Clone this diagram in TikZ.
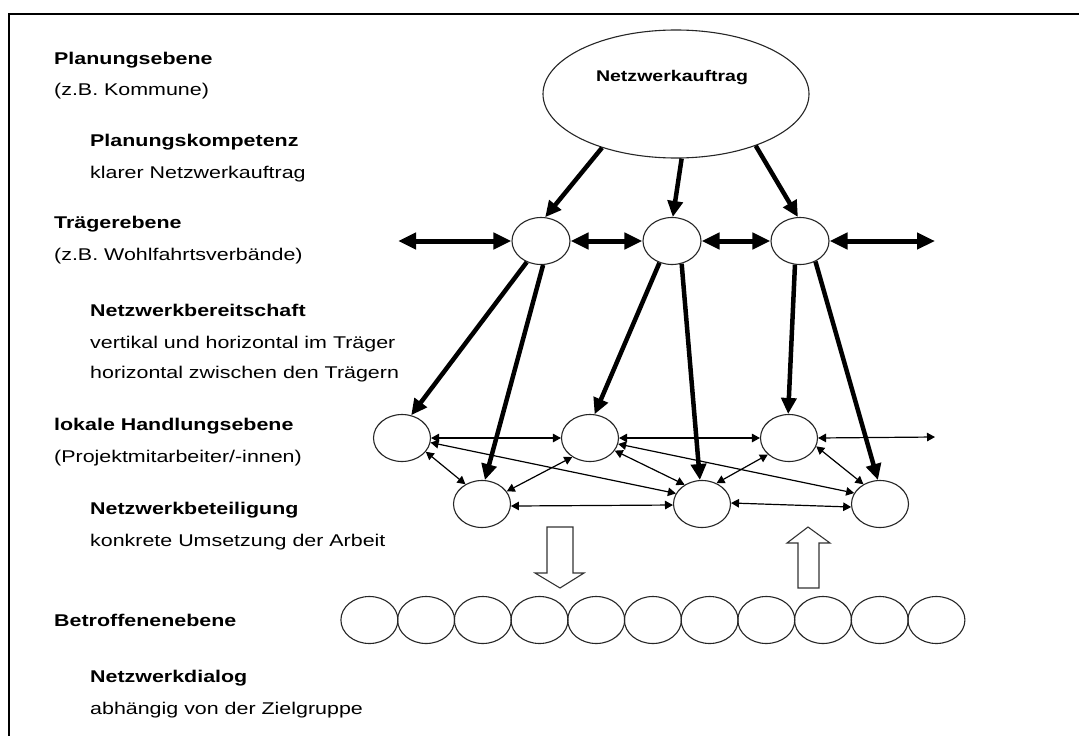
\documentclass[tikz,border=0pt]{standalone}
\usepackage{fontspec}
\setmainfont[FakeStretch=1.26]{Liberation Sans}
\usetikzlibrary{shapes.geometric,arrows.meta}

\begin{document}
\begin{tikzpicture}[x=1pt,y=-1pt,
  oval/.style={ellipse, draw=black!85, line width=1.1pt, minimum width=57pt, minimum height=47pt, inner sep=0pt},
  head/.style={anchor=base west, inner sep=0pt, font=\fontsize{17}{20}\selectfont\bfseries},
  sub/.style={anchor=base west, inner sep=0pt, font=\fontsize{17}{20}\selectfont},
  boldarrow/.style={line width=4.5pt, -{Triangle[length=16pt,width=15pt]}},
  boldboth/.style={line width=5pt, {Triangle[length=18pt,width=16pt]}-{Triangle[length=18pt,width=16pt]}},
  thinboth/.style={line width=1.2pt, {Triangle[length=8pt,width=8.5pt]}-{Triangle[length=8pt,width=8.5pt]}},
  block/.style={draw=black!80, line width=1.1pt, fill=white, line join=miter}
]
\fill[white] (0,0) rectangle (1079,736);
\useasboundingbox (0,0) rectangle (1079,736);

% frame (top and left edge)
\draw[line width=2.5pt] (9,736) -- (9,14) -- (1079,14);

% level captions
\node[head] (l1) at (54,64) {Planungsebene};
\node[sub]  (l1s) at (54,95) {(z.B. Kommune)};
\node[head] (k1) at (90,146) {Planungskompetenz};
\node[sub]  (k1s) at (90,178) {klarer Netzwerkauftrag};
\node[head] (l2) at (54,228) {Trägerebene};
\node[sub]  (l2s) at (54,260) {(z.B. Wohlfahrtsverbände)};
\node[head] (k2) at (90,316) {Netzwerkbereitschaft};
\node[sub]  (k2s) at (90,348) {vertikal und horizontal im Träger};
\node[sub]  (k2t) at (90,378) {horizontal zwischen den Trägern};
\node[head] (l3) at (54,430) {lokale Handlungsebene};
\node[sub]  (l3s) at (54,462) {(Projektmitarbeiter/-innen)};
\node[head] (k3) at (90,514) {Netzwerkbeteiligung};
\node[sub]  (k3s) at (90,546) {konkrete Umsetzung der Arbeit};
\node[head] (l4) at (54,626) {Betroffenenebene};
\node[head] (k4) at (90,682) {Netzwerkdialog};
\node[sub]  (k4s) at (90,714) {abhängig von der Zielgruppe};

% planning level
\node[oval, minimum width=266pt, minimum height=128pt] (auftrag) at (676,94) {};
\node[font=\fontsize{15.5}{18}\selectfont\bfseries] (auftragtext) at (672,78) {Netzwerkauftrag};

% carrier level
\node[oval, minimum width=58pt] (t1) at (541,241) {};
\node[oval, minimum width=58pt] (t2) at (672,241) {};
\node[oval, minimum width=58pt] (t3) at (800,241) {};
\coordinate (tl) at (398,241);
\coordinate (tr) at (935,241);

% local level
\node[oval] (a) at (402,438) {};
\node[oval] (b) at (590,438) {};
\node[oval] (c) at (789,438) {};
\node[oval] (d) at (482,504) {};
\node[oval] (e) at (702,504) {};
\node[oval] (f) at (880,504) {};
\coordinate (lr) at (935,437);

% affected people
\foreach \i in {0,...,10}
  \node[oval] (p\i) at ({369.4+56.7*\i},620) {};

% mandate to carriers
\draw[boldarrow] (auftrag.216) -- (t1.80);
\draw[boldarrow] (auftrag.275) -- (t2.88);
\draw[boldarrow] (auftrag.327) -- (t3.95);

% between carriers
\draw[boldboth] (tl) -- (t1.west);
\draw[boldboth] (t1.east) -- (t2.west);
\draw[boldboth] (t2.east) -- (t3.west);
\draw[boldboth] (t3.east) -- (tr);

% carriers to local actors
\draw[boldarrow] (t1.236) -- (a.68);
\draw[boldarrow] (t1.275) -- (d.83);
\draw[boldarrow] (t2.240) -- (b.79);
\draw[boldarrow] (t2.293) -- (e.95);
\draw[boldarrow] (t3.258) -- (c.92);
\draw[boldarrow] (t3.307) -- (f.95);

% local network
\draw[thinboth] (a.0) -- (b.180);
\draw[thinboth] (b.0) -- (c.180);
\draw[thinboth] (c.0) -- (lr);
\draw[thinboth] (a.351) -- (e.158);
\draw[thinboth] (a.330) -- (d.130);
\draw[thinboth] (d.27) -- (b.227);
\draw[thinboth] (d.356) -- (e.182);
\draw[thinboth] (b.333) -- (e.132);
\draw[thinboth] (b.348) -- (f.157);
\draw[thinboth] (e.55) -- (c.218);
\draw[thinboth] (c.343) -- (f.130);
\draw[thinboth] (e.2) -- (f.186);

% block arrows between local and affected level
\draw[block] (547,527) -- (573,527) -- (573,573) -- (584,573) -- (560,588) -- (535,573) -- (547,573) -- cycle;
\draw[block] (798,588) -- (819,588) -- (819,543) -- (830,543) -- (808,527) -- (787,543) -- (798,543) -- cycle;
\end{tikzpicture}
\end{document}
